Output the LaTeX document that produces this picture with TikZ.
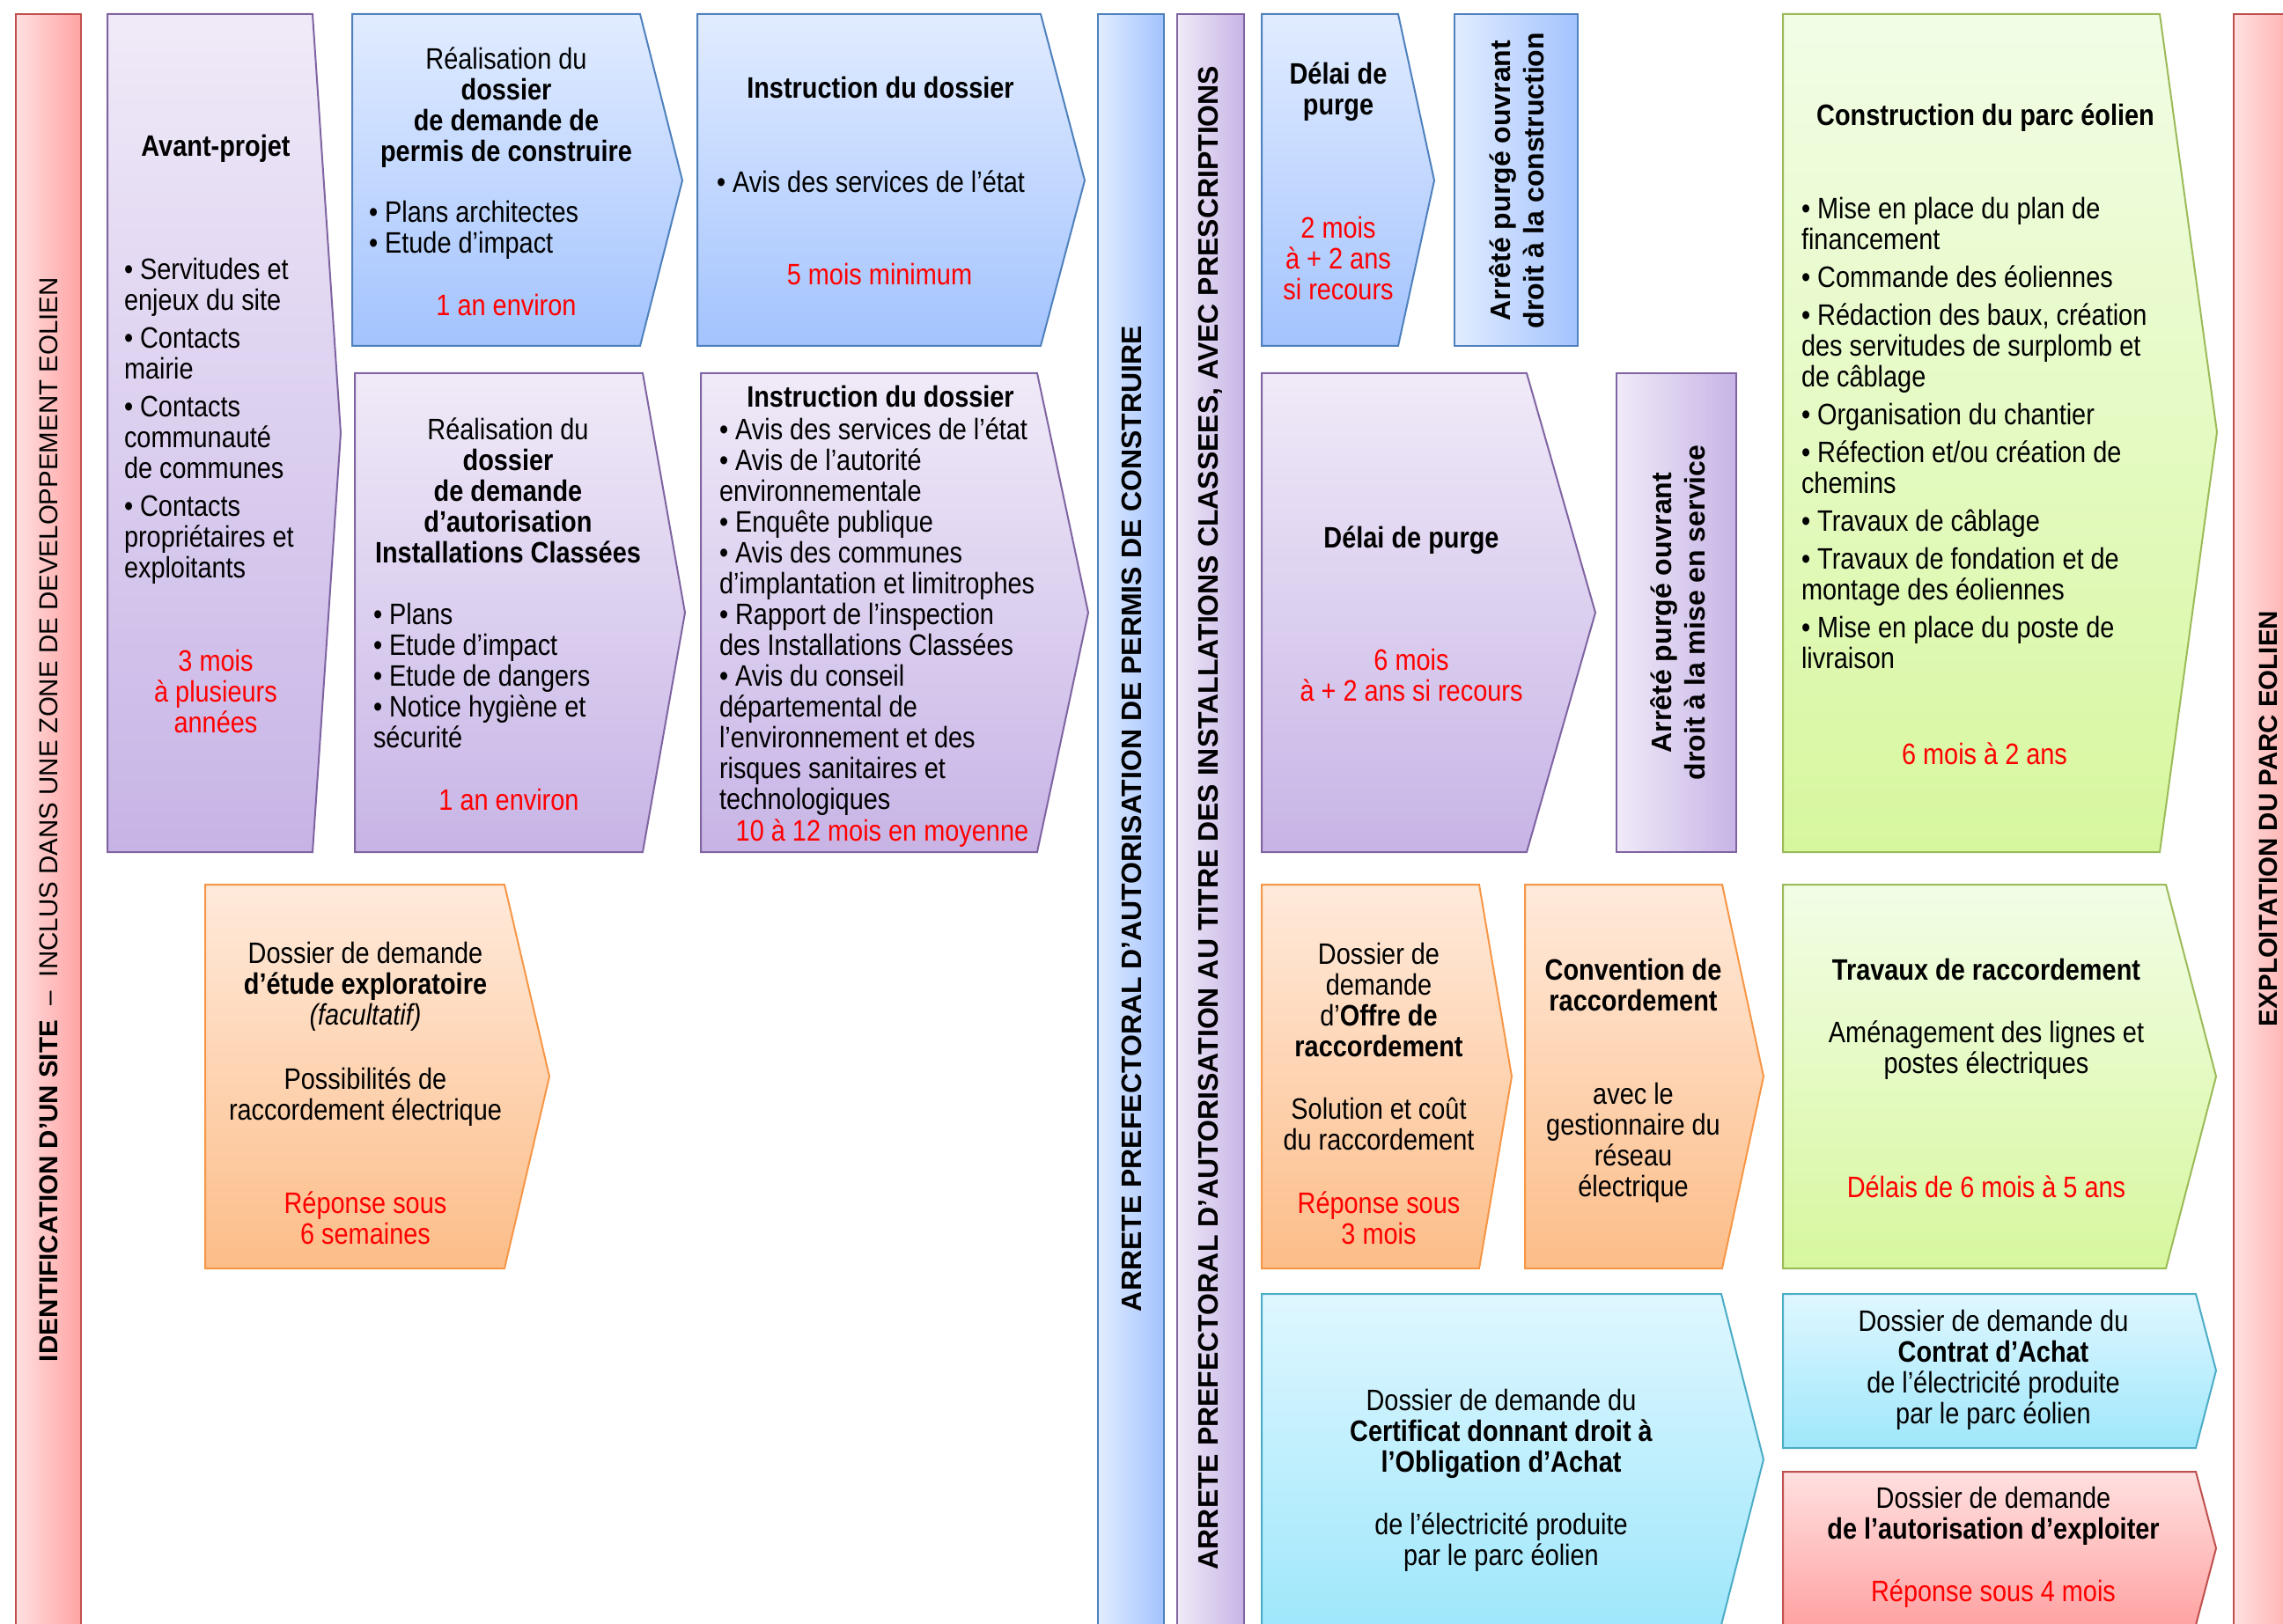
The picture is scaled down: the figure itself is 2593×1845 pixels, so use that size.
\documentclass[tikz,border=0pt]{standalone}
\usepackage{fontspec}
\setmainfont{Liberation Sans}
\newfontfamily\slimfont{Liberation Sans}[FakeStretch=0.86]
\newcommand{\boxfont}{\slimfont\fontsize{16.8pt}{17.5pt}\selectfont}
\newcommand{\barfont}{\fontsize{16pt}{19pt}\selectfont}
\newcommand{\sidefont}{\fontsize{14.75pt}{17pt}\selectfont}
\definecolor{blueTop}{HTML}{E1ECFF}
\definecolor{blueBot}{HTML}{A3C3FE}
\definecolor{blueLine}{HTML}{4F81BD}
\definecolor{purpTop}{HTML}{F0EAF8}
\definecolor{purpBot}{HTML}{C7B4E6}
\definecolor{purpLine}{HTML}{8064A2}
\definecolor{orgTop}{HTML}{FFEADB}
\definecolor{orgBot}{HTML}{FCBD88}
\definecolor{orgLine}{HTML}{F79646}
\definecolor{grnTop}{HTML}{F2FDE6}
\definecolor{grnBot}{HTML}{D7F79E}
\definecolor{grnLine}{HTML}{9BBB59}
\definecolor{cyaTop}{HTML}{DFF7FF}
\definecolor{cyaBot}{HTML}{9FE7FB}
\definecolor{cyaLine}{HTML}{4BACC6}
\definecolor{redTop}{HTML}{FFE0E0}
\definecolor{redBot}{HTML}{FFA3A3}
\definecolor{redLine}{HTML}{C0504D}
\definecolor{durRed}{HTML}{FF0000}
\begin{document}
\begin{tikzpicture}[x=0.5pt,y=-0.5pt,line width=1pt,
	bluebox/.style={draw=blueLine,top color=blueTop,bottom color=blueBot},
	purpbox/.style={draw=purpLine,top color=purpTop,bottom color=purpBot},
	orgbox/.style={draw=orgLine,top color=orgTop,bottom color=orgBot},
	grnbox/.style={draw=grnLine,top color=grnTop,bottom color=grnBot},
	cyabox/.style={draw=cyaLine,top color=cyaTop,bottom color=cyaBot},
	redbox/.style={draw=redLine,top color=redTop,bottom color=redBot},
	bluebar/.style={draw=blueLine,left color=blueTop,right color=blueBot},
	purpbar/.style={draw=purpLine,left color=purpTop,right color=purpBot},
	redbar/.style={draw=redLine,left color=redTop,right color=redBot},
	txt/.style={font=\boxfont,align=center,inner sep=0pt,anchor=north,yshift=6.25pt},
	lst/.style={txt,align=left,anchor=north west},
	dur/.style={txt,text=durRed},
	bartxt/.style={rotate=90,inner sep=0pt,align=center}]
		\useasboundingbox (0,0) rectangle (2593,1845);
		\clip (0,0) rectangle (2593,1845);
		% bars
		\draw[redbar] (18,16) rectangle (92,1870);
		\draw[bluebar] (1247,16) rectangle (1322,1870);
		\draw[purpbar] (1337,16) rectangle (1413,1870);
		\draw[redbar] (2537,16) rectangle (2620,1870);
		\node[bartxt,font=\sidefont] (barL) at (55,931)
		{\textbf{IDENTIFICATION D’UN SITE}\ \ –\ \ INCLUS DANS UNE ZONE DE DEVELOPPEMENT EOLIEN};
		\node[bartxt,font=\barfont\bfseries] (barPC) at (1285,930)
		{ARRETE PREFECTORAL D’AUTORISATION DE PERMIS DE CONSTRUIRE};
		\node[bartxt,font=\barfont\bfseries] (barIC) at (1375,929)
		{ARRETE PREFECTORAL D’AUTORISATION AU TITRE DES INSTALLATIONS CLASSEES, AVEC PRESCRIPTIONS};
		\node[bartxt,font=\sidefont\bfseries] (barR) at (2576,930) {EXPLOITATION DU PARC EOLIEN};
		% avant-projet
		\draw[purpbox] (122,16) -- (355,16) -- (387,492) -- (355,968) -- (122,968) -- cycle;
		\node[txt] (apT) at (245,165) {\textbf{Avant-projet}};
		\node[lst] (apL) at (140,305) {• Servitudes et\\enjeux du site\\[4pt]• Contacts\\mairie\\[4pt]• Contacts\\communauté\\de communes\\[4pt]• Contacts\\propriétaires et\\exploitants};
		\node[dur] (apD) at (245,750) {3 mois\\à plusieurs\\années};
		% permis de construire
		\draw[bluebox] (400,16) -- (727,16) -- (775,205) -- (727,393) -- (400,393) -- cycle;
		\node[txt] (pcT) at (575,65) {Réalisation du\\\textbf{dossier}\\\textbf{de demande de}\\\textbf{permis de construire}};
		\node[lst] (pcL) at (418,240) {• Plans architectes\\• Etude d’impact};
		\node[dur] (pcD) at (575,346) {1 an environ};
		\draw[bluebox] (792,16) -- (1182,16) -- (1232,205) -- (1182,393) -- (792,393) -- cycle;
		\node[txt] (ipT) at (1000,99) {\textbf{Instruction du dossier}};
		\node[lst] (ipL) at (813,205) {• Avis des services de l’état};
		\node[dur] (ipD) at (999,311) {5 mois minimum};
		\draw[bluebox] (1433,16) -- (1588,16) -- (1629,205) -- (1588,393) -- (1433,393) -- cycle;
		\node[txt] (dpT) at (1520,82) {\textbf{Délai de}\\\textbf{purge}};
		\node[dur] (dpD) at (1520,258) {2 mois\\à + 2 ans\\si recours};
		\draw[bluebar] (1652,16) rectangle (1792,393);
		\node[bartxt,font=\barfont\bfseries] (apc) at (1723,205) {Arrêté purgé ouvrant\\droit à la construction};
		% installations classees
		\draw[purpbox] (403,424) -- (730,424) -- (778,696) -- (730,968) -- (403,968) -- cycle;
		\node[txt] (icT) at (577,486) {Réalisation du\\\textbf{dossier}\\\textbf{de demande}\\\textbf{d’autorisation}\\\textbf{Installations Classées}};
		\node[lst] (icL) at (423,697) {• Plans\\• Etude d’impact\\• Etude de dangers\\• Notice hygiène et\\sécurité};
		\node[dur] (icD) at (578,908) {1 an environ};
		\draw[purpbox] (796,424) -- (1178,424) -- (1236,696) -- (1178,968) -- (796,968) -- cycle;
		\node[txt] (iiT) at (1000,450) {\textbf{Instruction du dossier}};
		\node[lst] (iiL) at (816,486) {• Avis des services de l’état\\• Avis de l’autorité\\environnementale\\• Enquête publique\\• Avis des communes\\d’implantation et limitrophes\\• Rapport de l’inspection\\des Installations Classées\\• Avis du conseil\\départemental de\\l’environnement et des\\risques sanitaires et\\technologiques};
		\node[dur] (iiD) at (1002,942) {10 à 12 mois en moyenne};
		\draw[purpbox] (1433,424) -- (1734,424) -- (1812,696) -- (1734,968) -- (1433,968) -- cycle;
		\node[txt] (diT) at (1603,609) {\textbf{Délai de purge}};
		\node[dur] (diD) at (1603,749) {6 mois\\à + 2 ans si recours};
		\draw[purpbar] (1836,424) rectangle (1972,968);
		\node[bartxt,font=\barfont\bfseries] (aic) at (1906,696) {Arrêté purgé ouvrant\\droit à la mise en service};
		% construction
		\draw[grnbox] (2025,16) -- (2453,16) -- (2518,491) -- (2453,968) -- (2025,968) -- cycle;
		\node[txt] (cpT) at (2255,129) {\textbf{Construction du parc éolien}};
		\node[lst] (cpL) at (2045,236) {• Mise en place du plan de\\financement\\[4pt]• Commande des éoliennes\\[4pt]• Rédaction des baux, création\\des servitudes de surplomb et\\de câblage\\[4pt]• Organisation du chantier\\[4pt]• Réfection et/ou création de\\chemins\\[4pt]• Travaux de câblage\\[4pt]• Travaux de fondation et de\\montage des éoliennes\\[4pt]• Mise en place du poste de\\livraison};
		\node[dur] (cpD) at (2254,855) {6 mois à 2 ans};
		% raccordement
		\draw[orgbox] (233,1005) -- (573,1005) -- (624,1223) -- (573,1441) -- (233,1441) -- cycle;
		\node[txt] (etT) at (415,1082) {Dossier de demande\\\textbf{d’étude exploratoire}\\\textit{(facultatif)}};
		\node[txt] (etS) at (415,1224) {Possibilités de\\raccordement électrique};
		\node[dur] (etD) at (415,1365) {Réponse sous\\6 semaines};
		\draw[orgbox] (1433,1005) -- (1680,1005) -- (1717,1223) -- (1680,1441) -- (1433,1441) -- cycle;
		\node[txt] (orT) at (1566,1083) {Dossier de\\demande\\d’\textbf{Offre de}\\\textbf{raccordement}};
		\node[txt] (orS) at (1566,1259) {Solution et coût\\du raccordement};
		\node[dur] (orD) at (1566,1365) {Réponse sous\\3 mois};
		\draw[orgbox] (1732,1005) -- (1956,1005) -- (2003,1223) -- (1956,1441) -- (1732,1441) -- cycle;
		\node[txt] (cvT) at (1855,1101) {\textbf{Convention de}\\\textbf{raccordement}};
		\node[txt] (cvS) at (1855,1242) {avec le\\gestionnaire du\\réseau\\électrique};
		\draw[grnbox] (2025,1005) -- (2460,1005) -- (2517,1223) -- (2460,1441) -- (2025,1441) -- cycle;
		\node[txt] (trT) at (2256,1101) {\textbf{Travaux de raccordement}};
		\node[txt] (trS) at (2256,1171) {Aménagement des lignes et\\postes électriques};
		\node[dur] (trD) at (2256,1347) {Délais de 6 mois à 5 ans};
		% achat et exploitation
		\draw[cyabox] (1433,1470) -- (1955,1470) -- (2003,1658) -- (1955,1846) -- (1433,1846) -- cycle;
		\node[txt] (oaT) at (1705,1590) {Dossier de demande du\\\textbf{Certificat donnant droit à}\\\textbf{l’Obligation d’Achat}};
		\node[txt] (oaS) at (1705,1730) {de l’électricité produite\\par le parc éolien};
		\draw[cyabox] (2025,1470) -- (2494,1470) -- (2517,1557) -- (2494,1645) -- (2025,1645) -- cycle;
		\node[txt] (caT) at (2264,1500) {Dossier de demande du\\\textbf{Contrat d’Achat}\\de l’électricité produite\\par le parc éolien};
		\draw[redbox] (2025,1672) -- (2494,1672) -- (2517,1759) -- (2494,1846) -- (2025,1846) -- cycle;
		\node[txt] (aeT) at (2264,1701) {Dossier de demande\\\textbf{de l’autorisation d’exploiter}};
		\node[dur] (aeD) at (2264,1806) {Réponse sous 4 mois};
	\end{tikzpicture}
\end{document}
